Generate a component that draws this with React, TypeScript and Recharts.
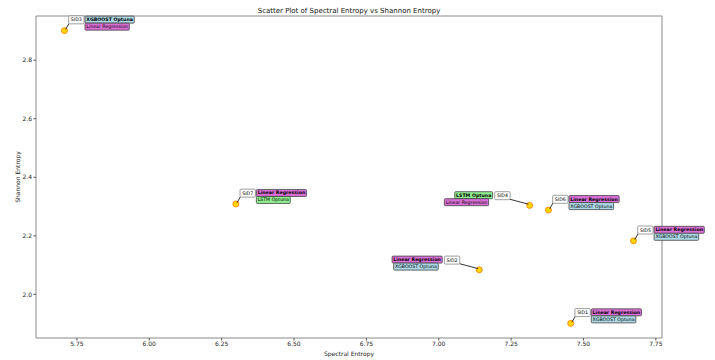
import React from 'react';
import { ScatterChart, Scatter, XAxis, YAxis, ReferenceArea } from 'recharts';

const sids = ['SID1', 'SID2', 'SID3', 'SID4', 'SID5', 'SID6', 'SID7'];
const spectralEntropy = [7.456, 7.14, 5.707, 7.314, 7.673, 7.379, 6.299];
const shannonEntropy = [1.901, 2.084, 2.901, 2.304, 2.183, 2.288, 2.309];
const bestModel = ['Linear Regression', 'Linear Regression', 'XGBOOST Optuna', 'LSTM Optuna', 'Linear Regression', 'Linear Regression', 'Linear Regression'];
const secondModel = ['XGBOOST Optuna', 'XGBOOST Optuna', 'Linear Regression', 'Linear Regression', 'XGBOOST Optuna', 'XGBOOST Optuna', 'LSTM Optuna'];
const labelSide = ['right', 'left', 'right', 'left', 'right', 'right', 'right'];
const xTicks = [5.75, 6.0, 6.25, 6.5, 6.75, 7.0, 7.25, 7.5, 7.75];
const yTicks = [2.0, 2.2, 2.4, 2.6, 2.8];

const modelColors: Record<string, string> = {
  'Linear Regression': '#DA70D6',
  'XGBOOST Optuna': '#ADD8E6',
  'LSTM Optuna': '#90EE90',
};

const FONT = '"DejaVu Sans", sans-serif';
const AFS = 4.7;

const data = sids.map((sid, i) => ({
  x: spectralEntropy[i],
  y: shannonEntropy[i],
  sid,
  best: bestModel[i],
  second: secondModel[i],
  side: labelSide[i],
}));

function pad(vals: number[]): [number, number] {
  const mn = Math.min(...vals);
  const mx = Math.max(...vals);
  const r = mx - mn;
  return [mn - 0.05 * r, mx + 0.05 * r];
}
const xDomain = pad(spectralEntropy);
const yDomain = pad(shannonEntropy);

let ctx: CanvasRenderingContext2D | null = null;
function measure(text: string, bold: boolean): number {
  if (!ctx) ctx = document.createElement('canvas').getContext('2d');
  if (!ctx) return text.length * AFS * 0.6;
  ctx.font = `${bold ? 'bold ' : ''}${AFS}px "DejaVu Sans"`;
  return ctx.measureText(text).width;
}

const Box = ({ x, y, w, h, fill, stroke, text, bold }: any) => (
  <g>
    <rect x={x} y={y} width={w} height={h} rx={1} ry={1} fill={fill} stroke={stroke} strokeWidth={0.8} />
    <text
      x={x + w / 2}
      y={y + h / 2}
      textAnchor="middle"
      dominantBaseline="central"
      fontSize={AFS}
      fontFamily={FONT}
      fontWeight={bold ? 'bold' : 'normal'}
      fill="#000"
    >
      {text}
    </text>
  </g>
);

const PointShape = (props: any) => {
  const { cx, cy, payload } = props;
  if (cx == null || cy == null) return null;
  const right = payload.side === 'right';
  const sidW = measure(payload.sid, false) + 4.4;
  const sidH = 8;
  const boxX = right ? cx + 4.2 : cx - 19.5 - sidW;
  const boxY = right ? cy - 14.8 : cy - 13.7;
  const w1 = measure(payload.best, true) + 2.6;
  const w2 = measure(payload.second, false) + 2.6;
  const l1x = right ? boxX + sidW + 1 : cx - 37 - w1;
  const l2x = right ? boxX + sidW + 1 : cx - 41 - w2;
  const l1y = right ? cy - 14.5 : cy - 13.7;
  const lh = 7;
  const lineEndX = right ? boxX + 0.5 : boxX + sidW - 0.5;
  const lineEndY = boxY + sidH - 0.5;
  const lineStartX = right ? cx + 1.2 : cx - 1.2;
  const lineStartY = cy - 1.2;
  return (
    <g>
      <circle cx={cx} cy={cy} r={3.0} fill="#FFD700" stroke="#FF7A00" strokeWidth={0.8} />
      <line x1={lineStartX} y1={lineStartY} x2={lineEndX} y2={lineEndY} stroke="#000" strokeWidth={0.8} />
      <Box x={boxX} y={boxY} w={sidW} h={sidH} fill="#fff" stroke="#888" text={payload.sid} bold={false} />
      <Box x={l1x} y={l1y} w={w1} h={lh} fill={modelColors[payload.best]} stroke="#444" text={payload.best} bold />
      <Box x={l2x} y={l1y + lh} w={w2} h={lh} fill={modelColors[payload.second]} stroke="#444" text={payload.second} bold={false} />
    </g>
  );
};

const tickStyle = { fontSize: 6, fontFamily: FONT, fill: '#222' };

export default function App() {
  return (
    <div style={{ position: 'absolute', left: 0, top: 0, width: 715, height: 360, background: '#fff' }}>
      <div
        style={{
          position: 'absolute',
          left: 0,
          top: 6.5,
          width: 698,
          textAlign: 'center',
          fontSize: 7,
          lineHeight: '9px',
          fontFamily: FONT,
          color: '#111',
        }}
      >
        Scatter Plot of Spectral Entropy vs Shannon Entropy
      </div>
      <ScatterChart width={715} height={360} margin={{ top: 16, right: 53, left: 0, bottom: 0 }}>
        <XAxis
          type="number"
          dataKey="x"
          domain={xDomain}
          ticks={xTicks}
          tickFormatter={(v: number) => v.toFixed(2)}
          height={22}
          axisLine={false}
          tickLine={{ stroke: '#555' }}
          tickSize={2.5}
          tickMargin={1.5}
          tick={tickStyle}
          label={{
            content: (p: any) => {
              const vb = p.viewBox || { x: 36, y: 338, width: 626, height: 22 };
              return (
                <text x={vb.x + vb.width / 2} y={356} textAnchor="middle" fontSize={6} fontFamily={FONT} fill="#222">
                  Spectral Entropy
                </text>
              );
            },
          }}
        />
        <YAxis
          type="number"
          dataKey="y"
          domain={yDomain}
          ticks={yTicks}
          tickFormatter={(v: number) => v.toFixed(1)}
          width={36}
          axisLine={false}
          tickLine={{ stroke: '#555' }}
          tickSize={2.5}
          tickMargin={1.5}
          tick={tickStyle}
          label={{
            content: (p: any) => {
              const vb = p.viewBox || { x: 0, y: 16, width: 36, height: 322 };
              const cy = vb.y + vb.height / 2;
              return (
                <text
                  x={17}
                  y={cy}
                  transform={`rotate(-90 17 ${cy})`}
                  textAnchor="middle"
                  dominantBaseline="central"
                  fontSize={6}
                  fontFamily={FONT}
                  fill="#222"
                >
                  Shannon Entropy
                </text>
              );
            },
          }}
        />
        <ReferenceArea
          x1={xDomain[0]}
          x2={xDomain[1]}
          y1={yDomain[0]}
          y2={yDomain[1]}
          fill="none"
          stroke="#8a8a8a"
          strokeWidth={1}
        />
        <Scatter data={data} shape={PointShape} isAnimationActive={false} />
      </ScatterChart>
    </div>
  );
}
